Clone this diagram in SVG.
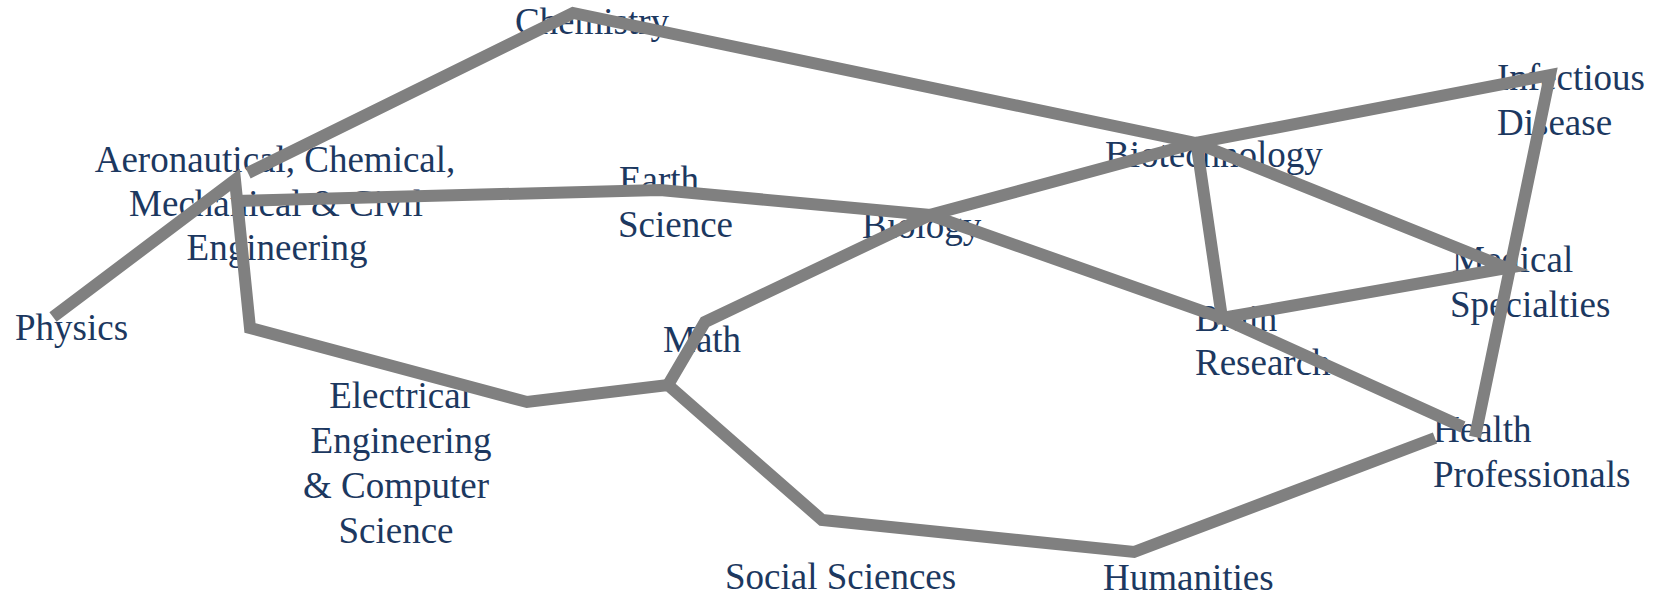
<svg xmlns="http://www.w3.org/2000/svg" width="1661" height="595" viewBox="0 0 1661 595">
<style>
  .lbl { font-family: "Liberation Serif", "Times New Roman", serif; font-size: 37px; fill: #1c3860; }
  .mid { text-anchor: middle; }
  .edge { fill: none; stroke: #808080; stroke-width: 12; stroke-linejoin: miter; stroke-linecap: butt; }
</style>
<rect width="1661" height="595" fill="#ffffff"/>
<g id="physics"><text class="lbl" x="15" y="340">Physics</text></g>
<g id="aero"><text class="lbl mid" x="275" y="172">Aeronautical, Chemical,</text><text class="lbl mid" x="276" y="216">Mechanical &amp; Civil</text><text class="lbl mid" x="277" y="260">Engineering</text></g>
<g id="chemistry"><text class="lbl mid" x="592" y="34">Chemistry</text></g>
<g id="earth"><text class="lbl" x="619" y="192">Earth</text><text class="lbl" x="618" y="237">Science</text></g>
<g id="biology"><text class="lbl" x="862" y="238">Biology</text></g>
<g id="math"><text class="lbl" x="663" y="352">Math</text></g>
<g id="eecs"><text class="lbl mid" x="400" y="408">Electrical</text><text class="lbl mid" x="401" y="453">Engineering</text><text class="lbl mid" x="396" y="498">&amp; Computer</text><text class="lbl mid" x="396" y="543">Science</text></g>
<g id="biotech"><text class="lbl" x="1105" y="167">Biotechnology</text></g>
<g id="infectious"><text class="lbl" x="1497" y="90">Infectious</text><text class="lbl" x="1497" y="135">Disease</text></g>
<g id="medical"><text class="lbl" x="1452" y="272">Medical</text><text class="lbl" x="1450" y="317">Specialties</text></g>
<g id="brain"><text class="lbl" x="1195" y="331">Brain</text><text class="lbl" x="1195" y="375">Research</text></g>
<g id="health"><text class="lbl" x="1433" y="442">Health</text><text class="lbl" x="1433" y="487">Professionals</text></g>
<g id="humanities"><text class="lbl" x="1103" y="590">Humanities</text></g>
<g id="social"><text class="lbl" x="725" y="589">Social Sciences</text></g>
<g id="connectors">
  <polyline class="edge" points="53,317 235,180 250,328 527,402 668,385 822,520 1134,552 1435,438"/>
  <polyline class="edge" points="248,173 573,13 1196,143 1550,75 1475,437"/>
  <polyline class="edge" points="233,201 660,190 930,215 1222,318 1463,427"/>
  <polyline class="edge" points="668,385 705,322 930,215 1196,143 1507,268 1222,318 1196,140"/>
</g>
</svg>
